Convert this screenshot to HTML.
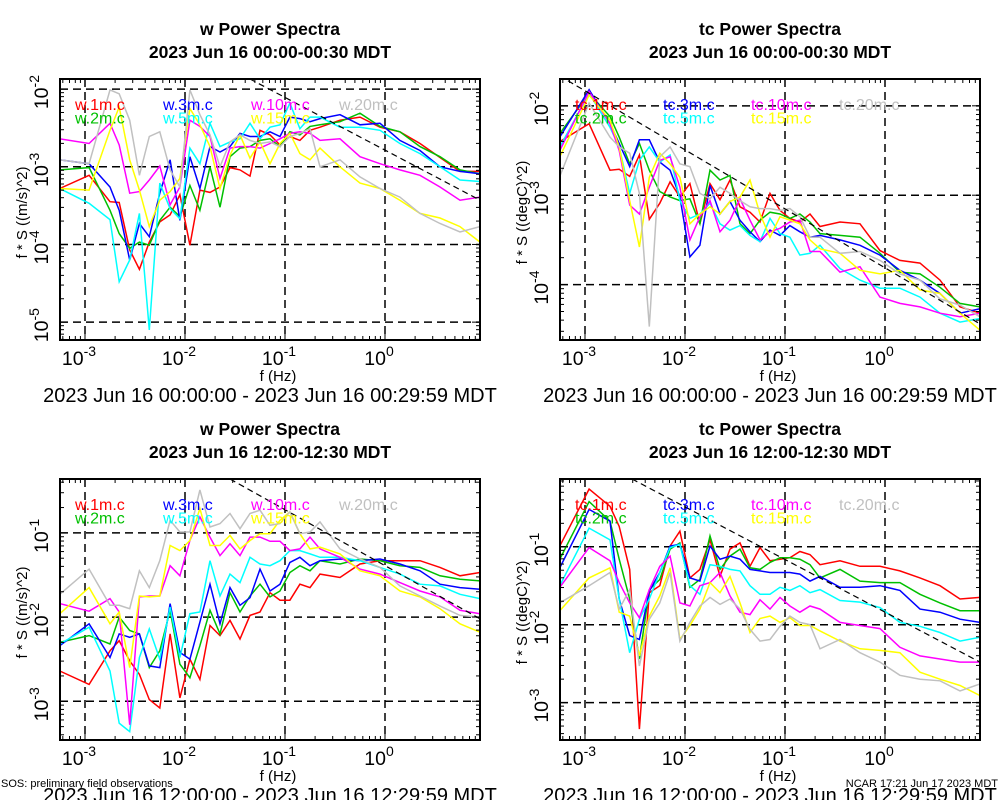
<!DOCTYPE html>
<html><head><meta charset="utf-8"><style>
html,body{margin:0;padding:0;background:#fff;}
svg{display:block;font-family:"Liberation Sans",sans-serif;}
</style></head><body>
<svg id="chart" width="1000" height="800" viewBox="0 0 1000 800" xmlns="http://www.w3.org/2000/svg"></svg>
<script>
// shared frequency grid (Hz)
const freqs = [5.6e-4,1.1e-3,1.78e-3,2.2e-3,2.8e-3,3.5e-3,4.4e-3,5.6e-3,7.1e-3,8.9e-3,0.0112,0.0141,0.0178,0.0224,0.0282,0.0355,0.0447,0.0562,0.0708,0.0891,0.112,0.141,0.178,0.224,0.355,0.562,0.891,1.41,2.24,3.55,5.62,8.91];
const seriesNamesW = ["w.1m.c","w.2m.c","w.3m.c","w.5m.c","w.10m.c","w.15m.c","w.20m.c"];
const seriesNamesTc = ["tc.1m.c","tc.2m.c","tc.3m.c","tc.5m.c","tc.10m.c","tc.15m.c","tc.20m.c"];
const colors = ["#ff0000","#00c000","#0000ff","#00ffff","#ff00ff","#ffff00","#c0c0c0"];
// log10(f*S) values
const tlRed=[-3.28,-3.11,-3.45,-3.46,-4.07,-4.32,-3.97,-3.71,-3.62,-3.36,-4.01,-3.30,-3.33,-3.26,-3.01,-3.04,-3.12,-2.53,-2.59,-2.72,-2.61,-2.66,-2.53,-2.49,-2.40,-2.36,-2.49,-2.55,-2.70,-2.88,-3.06,-3.06];
const tlGreen=[-3.04,-3.01,-3.56,-3.86,-4.05,-3.97,-4.01,-3.69,-3.52,-3.64,-3.24,-3.56,-3.00,-3.52,-2.87,-2.76,-2.74,-2.66,-2.64,-2.74,-2.55,-2.59,-2.48,-2.46,-2.42,-2.31,-2.48,-2.55,-2.74,-2.87,-3.04,-3.09];
const tlBlue=[-2.91,-2.96,-3.26,-3.56,-4.20,-3.73,-3.90,-3.34,-2.91,-3.69,-2.87,-3.28,-2.74,-2.81,-2.74,-2.57,-2.61,-2.61,-2.55,-2.61,-2.36,-2.38,-2.42,-2.38,-2.33,-2.46,-2.44,-2.66,-2.79,-3.00,-3.06,-3.09];
const tlCyan=[-3.28,-3.47,-3.68,-4.48,-4.20,-3.60,-5.10,-3.21,-3.54,-3.67,-2.76,-2.96,-2.44,-2.74,-2.68,-2.64,-2.44,-2.64,-2.49,-2.46,-2.18,-2.51,-2.36,-2.36,-2.49,-2.49,-2.53,-2.70,-2.83,-3.00,-3.17,-3.19];
const tlMagenta=[-2.64,-2.70,-2.44,-2.72,-3.34,-3.32,-3.17,-2.99,-3.49,-3.26,-2.40,-2.48,-2.61,-3.15,-2.76,-2.74,-2.74,-2.76,-2.70,-2.64,-2.57,-2.55,-2.57,-2.66,-2.64,-2.87,-2.96,-3.04,-3.11,-3.26,-3.43,-3.39];
const tlYellow=[-3.28,-3.30,-2.53,-2.23,-2.91,-3.30,-3.77,-3.43,-3.32,-3.15,-2.25,-2.46,-2.74,-3.28,-2.85,-2.59,-2.89,-2.68,-2.96,-2.70,-2.57,-2.83,-2.91,-2.76,-3.00,-3.21,-3.28,-3.43,-3.60,-3.66,-3.77,-3.97];
const tlGray=[-2.91,-2.96,-2.01,-2.06,-2.40,-3.11,-2.61,-2.55,-3.04,-3.26,-2.01,-2.33,-2.59,-3.00,-2.68,-2.59,-2.66,-2.70,-2.68,-2.74,-2.61,-2.57,-2.51,-3.00,-2.91,-3.13,-3.28,-3.39,-3.60,-3.73,-3.84,-3.77];
const trRed=[-2.40,-2.20,-2.72,-2.71,-2.79,-2.55,-3.27,-3.09,-2.85,-3.02,-2.87,-3.32,-2.87,-3.05,-2.83,-3.13,-3.19,-3.30,-2.98,-3.17,-3.26,-3.30,-3.21,-3.35,-3.30,-3.32,-3.62,-3.73,-3.76,-3.95,-4.25,-4.32];
const trGreen=[-2.31,-1.86,-2.12,-2.35,-2.65,-2.42,-2.72,-2.96,-3.02,-3.06,-3.04,-3.32,-2.72,-2.83,-2.78,-3.32,-3.43,-3.28,-3.19,-3.21,-3.26,-3.21,-3.30,-3.43,-3.45,-3.47,-3.65,-3.86,-3.88,-4.03,-4.21,-4.25];
const trBlue=[-2.35,-1.82,-2.20,-2.42,-2.68,-2.38,-2.38,-2.63,-2.72,-3.02,-3.69,-3.56,-2.89,-3.21,-3.07,-3.28,-3.41,-3.52,-3.39,-3.45,-3.34,-3.41,-3.47,-3.45,-3.50,-3.56,-3.67,-3.84,-3.95,-4.10,-4.32,-4.27];
const trCyan=[-2.46,-1.86,-2.24,-2.46,-2.98,-2.61,-2.46,-2.63,-2.55,-3.06,-3.26,-3.21,-3.09,-3.32,-3.39,-3.34,-3.45,-3.52,-3.26,-3.43,-3.47,-3.67,-3.65,-3.56,-3.82,-3.95,-4.04,-4.04,-4.14,-4.32,-4.42,-4.38];
const trMagenta=[-2.50,-1.84,-2.20,-2.50,-3.11,-3.21,-2.91,-2.61,-2.57,-2.91,-3.50,-3.24,-3.06,-3.41,-3.28,-3.04,-3.28,-3.50,-3.41,-3.37,-3.30,-3.28,-3.63,-3.63,-3.86,-3.80,-4.14,-4.21,-4.25,-4.32,-4.36,-4.32];
const trYellow=[-2.57,-1.88,-2.16,-2.46,-3.06,-3.58,-2.80,-2.53,-2.65,-2.80,-3.32,-3.21,-3.13,-3.21,-3.07,-3.02,-2.83,-3.21,-3.47,-3.24,-3.28,-3.32,-3.50,-3.60,-3.65,-3.84,-3.88,-3.84,-4.06,-4.10,-4.32,-4.51];
const trGray=[-2.79,-1.97,-2.35,-2.46,-2.53,-2.98,-4.47,-2.57,-2.46,-2.65,-2.68,-2.98,-3.04,-2.91,-2.98,-3.06,-3.13,-3.15,-3.15,-3.17,-3.15,-3.24,-3.47,-3.47,-3.65,-3.63,-3.73,-3.88,-3.95,-4.16,-4.23,-4.36];
const blRed=[-2.64,-2.80,-2.40,-2.28,-2.52,-2.68,-2.98,-3.08,-2.20,-2.96,-2.50,-2.74,-2.10,-2.22,-2.04,-2.26,-1.98,-1.94,-1.71,-1.80,-1.80,-1.61,-1.65,-1.49,-1.53,-1.37,-1.33,-1.33,-1.33,-1.41,-1.51,-1.47];
const blGreen=[-2.30,-2.22,-2.32,-2.00,-2.16,-2.20,-2.60,-2.40,-1.92,-2.56,-2.72,-2.34,-1.92,-2.20,-1.71,-1.94,-1.75,-1.61,-1.76,-1.69,-1.47,-1.39,-1.45,-1.33,-1.37,-1.31,-1.33,-1.39,-1.41,-1.51,-1.55,-1.57];
const blBlue=[-2.34,-2.08,-2.48,-2.20,-2.24,-2.20,-2.58,-2.60,-1.84,-2.42,-2.50,-2.06,-1.61,-2.08,-1.65,-1.86,-1.77,-1.43,-1.69,-1.61,-1.35,-1.29,-1.39,-1.33,-1.31,-1.33,-1.31,-1.37,-1.45,-1.61,-1.65,-1.67];
const blCyan=[-2.32,-2.12,-2.64,-3.26,-3.36,-2.48,-2.14,-2.50,-1.88,-2.48,-1.96,-1.94,-1.33,-1.75,-1.49,-1.59,-1.29,-1.37,-1.39,-1.33,-1.21,-1.21,-1.25,-1.29,-1.29,-1.33,-1.41,-1.49,-1.61,-1.63,-1.73,-1.78];
const blMagenta=[-1.84,-1.93,-1.78,-1.94,-3.28,-1.76,-1.75,-1.75,-1.39,-1.51,-1.09,-0.81,-1.05,-1.27,-1.13,-1.27,-1.05,-1.05,-1.10,-1.10,-1.21,-1.19,-1.05,-1.19,-1.29,-1.43,-1.49,-1.59,-1.69,-1.76,-1.92,-1.96];
const blYellow=[-1.96,-1.65,-2.08,-1.94,-2.60,-1.75,-1.76,-1.75,-1.15,-1.21,-1.09,-0.71,-1.15,-1.15,-1.03,-1.19,-1.09,-1.01,-1.01,-0.85,-0.75,-1.01,-1.19,-1.17,-1.25,-1.45,-1.51,-1.69,-1.76,-1.90,-2.08,-2.18];
const blGray=[-1.73,-1.43,-1.86,-1.86,-1.90,-1.45,-1.65,-1.33,-0.85,-0.99,-0.99,-0.49,-0.93,-0.89,-0.77,-0.95,-0.77,-0.73,-0.91,-0.89,-0.75,-1.01,-0.99,-0.87,-1.19,-1.31,-1.41,-1.63,-1.75,-1.87,-1.98,-2.00];
const brRed=[-0.99,-0.26,-0.48,-0.74,-1.29,-3.34,-1.59,-1.50,-0.99,-0.80,-1.40,-1.29,-0.91,-1.38,-1.03,-0.95,-1.25,-1.01,-1.18,-1.16,-1.14,-1.06,-1.10,-1.23,-1.18,-1.25,-1.25,-1.31,-1.40,-1.50,-1.67,-1.65];
const brGreen=[-1.16,-0.42,-0.67,-1.16,-1.67,-2.44,-1.55,-1.42,-1.03,-0.95,-1.52,-1.42,-0.86,-1.29,-1.12,-1.03,-1.27,-1.29,-1.20,-1.14,-1.14,-1.16,-1.23,-1.40,-1.29,-1.44,-1.46,-1.46,-1.61,-1.72,-1.82,-1.82];
const brBlue=[-1.27,-0.52,-0.67,-1.67,-2.14,-2.19,-1.57,-1.33,-0.99,-0.97,-1.40,-1.44,-0.99,-1.16,-1.12,-1.16,-1.29,-1.31,-1.33,-1.33,-1.33,-1.35,-1.44,-1.38,-1.52,-1.52,-1.50,-1.56,-1.80,-1.84,-1.93,-1.97];
const brCyan=[-1.50,-0.76,-0.91,-1.67,-2.36,-1.93,-1.67,-1.33,-1.01,-0.97,-1.50,-1.61,-1.23,-1.25,-1.29,-1.31,-1.50,-1.61,-1.61,-1.52,-1.56,-1.50,-1.59,-1.55,-1.69,-1.71,-1.78,-1.97,-2.02,-2.10,-2.21,-2.16];
const brMagenta=[-1.52,-1.01,-1.18,-1.46,-1.72,-1.91,-1.55,-1.25,-1.12,-1.72,-1.76,-1.50,-1.46,-1.33,-1.63,-1.84,-1.87,-1.68,-1.80,-1.65,-1.76,-1.84,-1.76,-1.80,-1.97,-2.01,-2.05,-2.29,-2.40,-2.44,-2.48,-2.48];
const brYellow=[-1.82,-1.40,-1.27,-1.84,-1.89,-2.40,-1.89,-1.63,-1.27,-2.19,-2.01,-1.80,-1.46,-1.59,-1.38,-1.72,-2.10,-1.92,-1.89,-1.97,-1.91,-2.01,-2.01,-2.08,-2.21,-2.31,-2.33,-2.36,-2.61,-2.70,-2.78,-2.91];
const brGray=[-1.72,-1.50,-1.33,-1.80,-1.55,-2.53,-1.93,-1.72,-1.33,-2.21,-1.97,-1.76,-1.65,-1.74,-1.67,-1.80,-2.06,-2.21,-2.19,-2.02,-1.89,-1.97,-2.00,-2.31,-2.19,-2.36,-2.48,-2.65,-2.70,-2.72,-2.85,-2.76];
// reference -2/3 slope lines: [log f start, log y start, log f end, log y end]
const refTL=[-1.35,-1.87,0.95,-3.43];
const refTR=[-3.17,-1.72,0.95,-4.44];
const refBL=[-1.55,-0.36,0.95,-2.02];
const refBR=[-2.53,-0.13,0.95,-2.48];
const xTicks=[-3,-2,-1,0];

const svg=document.getElementById('chart');
const NS="http://www.w3.org/2000/svg";
function mk(tag,attrs,parent){const e=document.createElementNS(NS,tag);for(const k in attrs)e.setAttribute(k,attrs[k]);(parent||svg).appendChild(e);return e;}

const panels=[
 {id:'tl',x0:60,x1:480,y0:79,y1:340,ylo:-5.23,yhi:-1.87,yt:[-5,-4,-3,-2],names:seriesNamesW,data:[tlRed,tlGreen,tlBlue,tlCyan,tlMagenta,tlYellow,tlGray],ref:refTL,t1:"w Power Spectra",t2:"2023 Jun 16 00:00-00:30 MDT",sub:"2023 Jun 16 00:00:00 - 2023 Jun 16 00:29:59 MDT",ylab:"f * S ((m/s)^2)"},
 {id:'tr',x0:560,x1:980,y0:79,y1:340,ylo:-4.62,yhi:-1.70,yt:[-4,-3,-2],names:seriesNamesTc,data:[trRed,trGreen,trBlue,trCyan,trMagenta,trYellow,trGray],ref:refTR,t1:"tc Power Spectra",t2:"2023 Jun 16 00:00-00:30 MDT",sub:"2023 Jun 16 00:00:00 - 2023 Jun 16 00:29:59 MDT",ylab:"f * S ((degC)^2)"},
 {id:'bl',x0:60,x1:480,y0:479,y1:740,ylo:-3.46,yhi:-0.36,yt:[-3,-2,-1],names:seriesNamesW,data:[blRed,blGreen,blBlue,blCyan,blMagenta,blYellow,blGray],ref:refBL,t1:"w Power Spectra",t2:"2023 Jun 16 12:00-12:30 MDT",sub:"2023 Jun 16 12:00:00 - 2023 Jun 16 12:29:59 MDT",ylab:"f * S ((m/s)^2)"},
 {id:'br',x0:560,x1:980,y0:479,y1:740,ylo:-3.48,yhi:-0.13,yt:[-3,-2,-1],names:seriesNamesTc,data:[brRed,brGreen,brBlue,brCyan,brMagenta,brYellow,brGray],ref:refBR,t1:"tc Power Spectra",t2:"2023 Jun 16 12:00-12:30 MDT",sub:"2023 Jun 16 12:00:00 - 2023 Jun 16 12:29:59 MDT",ylab:"f * S ((degC)^2)"}
];
const XLO=-3.25,XHI=0.95;
const legPos=[[0,0],[0,1],[1,0],[1,1],[2,0],[2,1],[3,0]];

panels.forEach(p=>{
  const g=mk('g',{});
  
  
  const sx=lf=>p.x0+(lf-XLO)/(XHI-XLO)*(p.x1-p.x0);
  const sy=lv=>p.y1-(lv-p.ylo)/(p.yhi-p.ylo)*(p.y1-p.y0);
  const tc=(p.x0+p.x1)/2;
  let t=mk('text',{x:tc,y:p.y0-44,'text-anchor':'middle','font-size':17.5,'font-weight':'bold'},g);t.textContent=p.t1;
  
  t=mk('text',{x:tc,y:p.y0-21,'text-anchor':'middle','font-size':17.5,'font-weight':'bold'},g);t.textContent=p.t2;
  
  const clipId='clip-'+p.id;
  const cp=mk('clipPath',{id:clipId},g);mk('rect',{x:p.x0,y:p.y0,width:p.x1-p.x0,height:p.y1-p.y0},cp);
  xTicks.forEach(v=>{const l=mk('line',{x1:sx(v),x2:sx(v),y1:p.y0,y2:p.y1,stroke:'#000','stroke-width':1.5,'stroke-dasharray':'8,5'},g);
    });
  p.yt.forEach(v=>{const l=mk('line',{x1:p.x0,x2:p.x1,y1:sy(v),y2:sy(v),stroke:'#000','stroke-width':1.5,'stroke-dasharray':'8,5'},g);
    });
  const sg=mk('g',{'clip-path':'url(#'+clipId+')'},g);
  p.data.forEach((arr,i)=>{
    const pts=arr.map((v,k)=>sx(Math.log10(freqs[k])).toFixed(1)+','+sy(v).toFixed(1)).join(' ');
    const pl=mk('polyline',{points:pts,fill:'none',stroke:colors[i],'stroke-width':1.5},sg);
    
    
  });
  const r=p.ref;
  const rl=mk('line',{x1:sx(r[0]),y1:sy(r[1]),x2:sx(r[2]),y2:sy(r[3]),stroke:'#000','stroke-width':1.2,'stroke-dasharray':'6,4'},sg);
  
  p.names.forEach((n,i)=>{
    const [c,rw]=legPos[i];
    const lt=mk('text',{x:p.x0+15+c*88,y:p.y0+31+rw*13.5,'font-size':16,fill:colors[i]},g);
    lt.textContent=n;
    
  });
  const fr=mk('rect',{x:p.x0,y:p.y0,width:p.x1-p.x0,height:p.y1-p.y0,fill:'none',stroke:'#000','stroke-width':2},g);
  
  for(let d=-4;d<=1;d++)for(let m=1;m<10;m++){const lv=d+Math.log10(m);
    if(lv>XLO&&lv<XHI){const len=m===1?8:4;
      mk('line',{x1:sx(lv),x2:sx(lv),y1:p.y1,y2:p.y1-len,stroke:'#000','stroke-width':1},g);
      mk('line',{x1:sx(lv),x2:sx(lv),y1:p.y0,y2:p.y0+len,stroke:'#000','stroke-width':1},g);}}
  for(let d=-6;d<=0;d++)for(let m=1;m<10;m++){const lv=d+Math.log10(m);
    if(lv>p.ylo&&lv<p.yhi){const len=m===1?8:4;
      mk('line',{x1:p.x0,x2:p.x0+len,y1:sy(lv),y2:sy(lv),stroke:'#000','stroke-width':1},g);
      mk('line',{x1:p.x1,x2:p.x1-len,y1:sy(lv),y2:sy(lv),stroke:'#000','stroke-width':1},g);}}
  xTicks.forEach(v=>{const tx=mk('text',{x:sx(v)-6,y:p.y1+25,'text-anchor':'middle','font-size':19.5},g);
    
    tx.appendChild(document.createTextNode('10'));
    const ts=mk('tspan',{dy:-9,'font-size':14},tx);ts.textContent=String(v);});
  p.yt.forEach(v=>{const X=p.x0-12,Y=sy(v)+3;
    const tx=mk('text',{x:X,y:Y,'text-anchor':'middle','font-size':19.5,transform:'rotate(-90 '+X+' '+Y+')'},g);
    
    tx.appendChild(document.createTextNode('10'));
    const ts=mk('tspan',{dy:-9,'font-size':14},tx);ts.textContent=String(v);});
  let xl=mk('text',{x:(p.x0+p.x1)/2+8,y:p.y1+41,'text-anchor':'middle','font-size':15},g);xl.textContent='f (Hz)';
  
  const YX=p.x0-33,YY=(p.y0+p.y1)/2+3;
  let yl=mk('text',{x:YX,y:YY,'text-anchor':'middle','font-size':15,transform:'rotate(-90 '+YX+' '+YY+')'},g);yl.textContent=p.ylab;
  
  let st=mk('text',{x:(p.x0+p.x1)/2,y:p.y1+62,'text-anchor':'middle','font-size':20},g);st.textContent=p.sub;
  
});
let f1=mk('text',{x:1,y:787,'font-size':11});f1.textContent='SOS: preliminary field observations';

let f2=mk('text',{x:998,y:787,'font-size':11,'text-anchor':'end'});f2.textContent='NCAR 17:21 Jun 17 2023 MDT';

</script>
</body></html>
